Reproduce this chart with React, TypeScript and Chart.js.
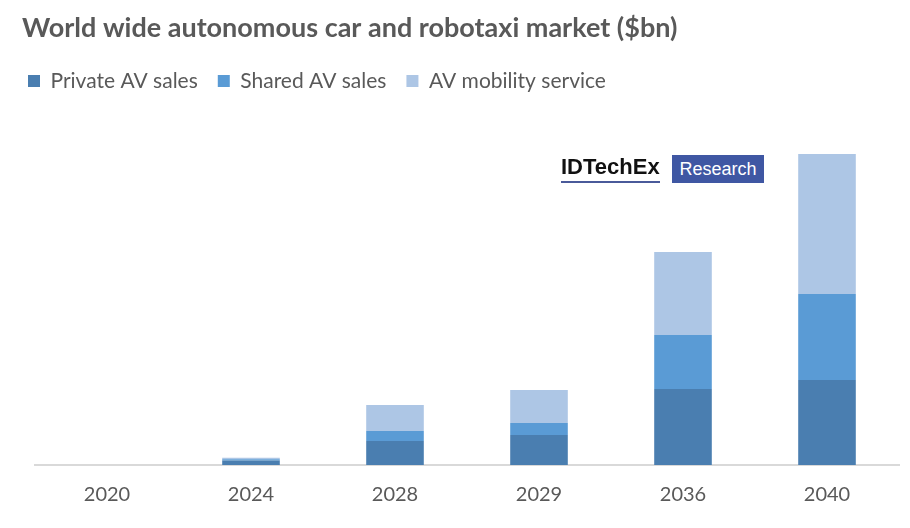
import React, { useEffect, useRef } from "react";
import { Chart, registerables } from "chart.js";

Chart.register(...registerables);

const years = ["2020", "2024", "2028", "2029", "2036", "2040"];
const privateAV = [0, 4.5, 24, 30, 76, 85];
const sharedAV = [0, 1.2, 10, 12, 54, 86];
const mobilityAV = [0, 1.5, 26, 33, 83, 140];
const seriesNames = ["Private AV sales", "Shared AV sales", "AV mobility service"];
const seriesColors = ["#4A7EB0", "#5A9BD5", "#ADC6E5"];
const titleText = "World wide autonomous car and robotaxi market ($bn)";

const shiftTitle = {
  id: "shiftTitle",
  afterLayout(chart: any) {
    const t = chart.titleBlock;
    if (t) {
      t.left += 14;
      t.right += 14;
    }
  },
};

export default function App() {
  const ref = useRef<HTMLCanvasElement | null>(null);
  useEffect(() => {
    if (!ref.current) return;
    const chart = new Chart(ref.current, {
      type: "bar",
      data: {
        labels: years,
        datasets: [privateAV, sharedAV, mobilityAV].map((d, i) => ({
          label: seriesNames[i],
          data: d,
          backgroundColor: seriesColors[i],
          borderWidth: 0,
          barPercentage: 0.4,
          categoryPercentage: 1,
        })),
      },
      plugins: [shiftTitle],
      options: {
        responsive: false,
        animation: false,
        devicePixelRatio: 1,
        layout: { padding: { left: 8, right: 11, top: 0, bottom: 0 } },
        plugins: {
          tooltip: { enabled: false },
          title: {
            display: true,
            text: titleText,
            align: "start",
            color: "#595959",
            font: { family: "Lato", size: 27, weight: "bold" },
            padding: { top: 12, bottom: 6 },
          },
          legend: {
            display: true,
            position: "top",
            align: "start",
            labels: {
              boxWidth: 12,
              boxHeight: 12,
              padding: 20,
              color: "#595959",
              font: { family: "Lato", size: 21 },
            },
          },
        },
        scales: {
          x: {
            stacked: true,
            grid: { display: false, drawTicks: false },
            border: { display: true, color: "#D9D9D9", width: 2 },
            ticks: {
              color: "#595959",
              font: { family: "Lato", size: 20 },
              padding: 18,
              maxRotation: 0,
            },
            afterFit(scale: any) {
              scale.height = 63;
            },
          },
          y: {
            stacked: true,
            min: 0,
            max: 363.5,
            grid: { display: false, drawTicks: false },
            border: { display: false },
            ticks: { display: false },
            afterFit(scale: any) {
              scale.width = 27;
            },
          },
        },
      },
    });
    return () => chart.destroy();
  }, []);

  return (
    <div style={{ position: "absolute", left: 0, top: 0, width: 910, height: 528, background: "#fff" }}>
      <canvas ref={ref} width={910} height={528} style={{ display: "block" }} />
      <div
        style={{
          position: "absolute",
          left: 561,
          top: 154,
          fontFamily: "'Liberation Sans', Arial, sans-serif",
          fontWeight: "bold",
          fontSize: 22,
          lineHeight: "26px",
          color: "#111",
          borderBottom: "2px solid #4A5A9A",
          paddingBottom: 1,
        }}
      >
        IDTechEx
      </div>
      <div
        style={{
          position: "absolute",
          left: 672,
          top: 155,
          width: 92,
          height: 28,
          background: "#3F57A3",
          color: "#fff",
          fontFamily: "'Liberation Sans', Arial, sans-serif",
          fontSize: 18,
          lineHeight: "28px",
          textAlign: "center",
        }}
      >
        Research
      </div>
    </div>
  );
}
